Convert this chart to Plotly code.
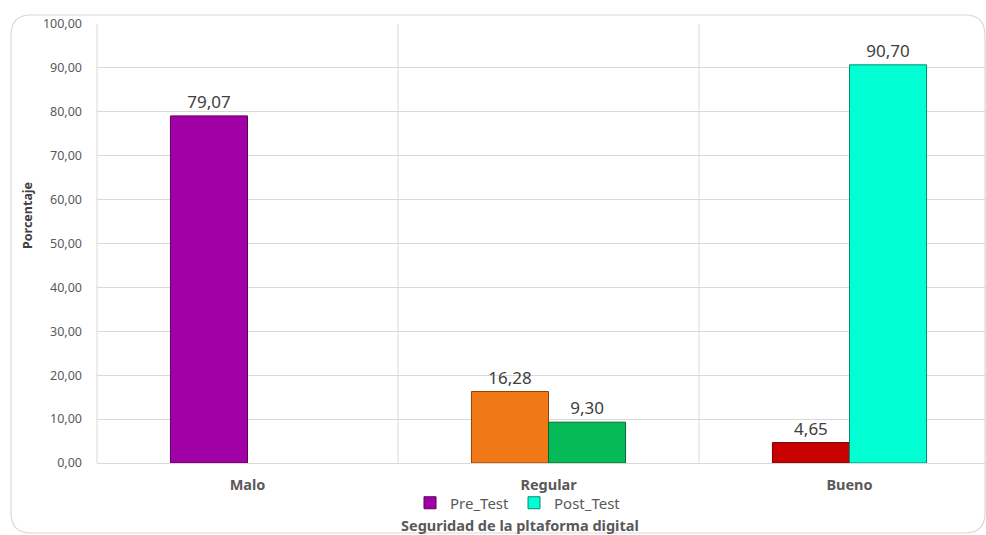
import plotly.graph_objects as go

categories = ["Malo", "Regular", "Bueno"]
pre_test = [79.07, 16.28, 4.65]
post_test = [None, 9.30, 90.70]
y_ticks = [0, 10, 20, 30, 40, 50, 60, 70, 80, 90, 100]

pre_colors = ["#A100A6", "#F07817", "#C80000"]
pre_lines = ["#5E005F", "#8C4308", "#6E0000"]
post_colors = ["#00FFD2", "#05BA57", "#00FFD2"]
post_lines = ["#008C73", "#03683A", "#008C73"]

W, H = 986, 535
L, R, T, B = 97, 0, 24, 72
plot_w = W - L - R
plot_h = H - T - B

FONT = "Noto Sans"
TXT = "#404040"

fig = go.Figure()
fig.add_trace(go.Bar(
    name="Pre_Test", x=categories, y=pre_test,
    marker=dict(color=pre_colors, line=dict(color=pre_lines, width=1)),
    texttemplate="%{y:.2f}", textposition="outside",
    textfont=dict(family=FONT, size=17, color=TXT), cliponaxis=False,
))
fig.add_trace(go.Bar(
    name="Post_Test", x=categories, y=post_test,
    marker=dict(color=post_colors, line=dict(color=post_lines, width=1)),
    texttemplate="%{y:.2f}", textposition="outside",
    textfont=dict(family=FONT, size=17, color=TXT), cliponaxis=False,
))

def px_x(px):
    return (px - L) / plot_w

def px_y(py):
    return (H - B - py) / plot_h

# rounded outer chart frame
x0, x1 = px_x(11), px_x(985)
y0, y1 = px_y(533), px_y(15)
rx = 20 / plot_w
ry = 20 / plot_h
path = (f"M {x0+rx},{y1} L {x1-rx},{y1} Q {x1},{y1} {x1},{y1-ry} "
        f"L {x1},{y0+ry} Q {x1},{y0} {x1-rx},{y0} L {x0+rx},{y0} "
        f"Q {x0},{y0} {x0},{y0+ry} L {x0},{y1-ry} Q {x0},{y1} {x0+rx},{y1} Z")
shapes = [dict(type="path", path=path, xref="paper", yref="paper",
               line=dict(color="#D9D9D9", width=1.2), layer="below")]
# category separators
for xv in [0.5, 1.5]:
    shapes.append(dict(type="line", xref="x", yref="paper", x0=xv, x1=xv, y0=0, y1=1,
                       line=dict(color="#D9D9D9", width=1), layer="below"))
# left edge of plot area
shapes.append(dict(type="line", xref="paper", yref="paper", x0=0, x1=0, y0=0, y1=1,
                   line=dict(color="#D9D9D9", width=1), layer="below"))

x_end = (W - L) / 301.0 - 0.5

fig.update_layout(
    width=W, height=H,
    margin=dict(l=L, r=R, t=T, b=B, pad=0),
    paper_bgcolor="white", plot_bgcolor="white",
    separators=",.",
    barmode="group", bargap=0.488, bargroupgap=0,
    font=dict(family=FONT, color=TXT),
    shapes=shapes,
    xaxis=dict(
        range=[-0.5, x_end], showgrid=False, zeroline=False, showline=False,
        tickmode="array", tickvals=list(range(len(categories))),
        ticktext=[f"<b>{c}</b>" for c in categories],
        tickfont=dict(family=FONT, size=14.5, color="#595959"),
        ticks="", ticklabelstandoff=11,
    ),
    yaxis=dict(
        range=[0, 100], tickvals=y_ticks, tickformat=".2f",
        tickfont=dict(family=FONT, size=12.5, color="#595959"),
        showgrid=True, gridcolor="#D9D9D9", gridwidth=1,
        zeroline=True, zerolinecolor="#D9D9D9", zerolinewidth=1,
        showline=False, ticks="", ticklabelstandoff=14,
    ),
    legend=dict(
        orientation="h", x=px_x(518), xanchor="center", y=px_y(503), yanchor="middle",
        font=dict(family=FONT, size=15, color="#595959"),
        itemwidth=30, bgcolor="rgba(0,0,0,0)", traceorder="normal",
        tracegroupgap=0, borderwidth=0,
    ),
    annotations=[
        dict(text="<b>Porcentaje</b>", xref="paper", yref="paper",
             x=px_x(27), y=px_y(216), textangle=-90, showarrow=False,
             xanchor="center", yanchor="middle",
             font=dict(family=FONT, size=12.5, color=TXT)),
        dict(text="<b>Seguridad de la pltaforma digital</b>", xref="paper", yref="paper",
             x=px_x(520), y=px_y(525), showarrow=False,
             xanchor="center", yanchor="middle",
             font=dict(family=FONT, size=14.5, color="#595959")),
    ],
)

fig.write_html("out.html")
